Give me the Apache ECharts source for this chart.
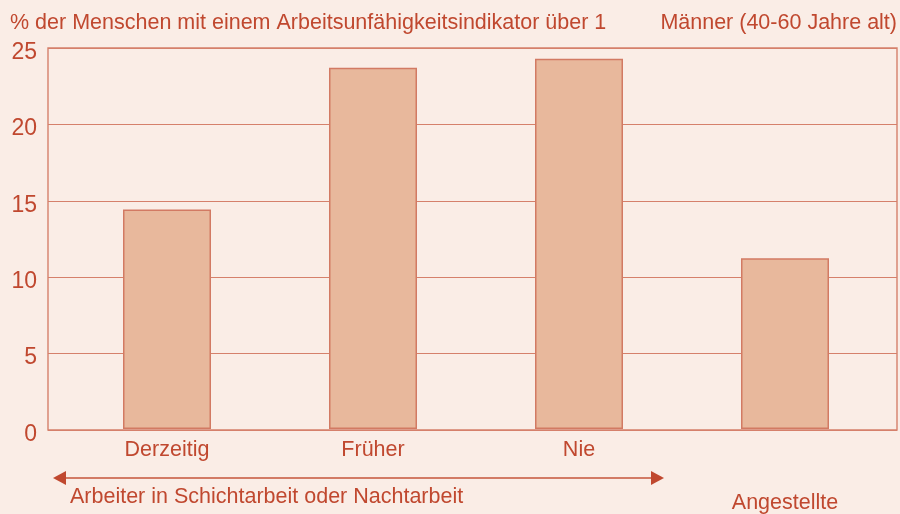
<!DOCTYPE html>
<html><head><meta charset="utf-8">
<script src="https://cdn.jsdelivr.net/npm/echarts@6/dist/echarts.min.js"></script>
<style>html,body{margin:0;padding:0;background:#FAEDE6;}#c{width:900px;height:514px;}</style>
</head><body><div id="c"></div>
<script>
const categories = ['Derzeitig', 'Früher', 'Nie', 'Angestellte'];
const values = [14.4, 23.7, 24.3, 11.2];
const yTicks = [0, 5, 10, 15, 20, 25];
const titleLeft = '% der Menschen mit einem Arbeitsunfähigkeitsindikator über 1';
const titleRight = 'Männer (40-60 Jahre alt)';
const groupLabel = 'Arbeiter in Schichtarbeit oder Nachtarbeit';

const TXT = '#C0482F';
const LINE = '#D5806B';
const FONT = '"Liberation Sans", Arial, sans-serif';
const FS = 21.5;

const chart = echarts.init(document.getElementById('c'));
chart.setOption({
  backgroundColor: '#FAEDE6',
  animation: false,
  textStyle: { fontFamily: FONT },
  grid: [
    { left: 48, right: 3, top: 48, bottom: 84, show: true, borderColor: LINE, borderWidth: 1.4, backgroundColor: 'transparent' },
    { left: 64, right: 12, top: 48, bottom: 84 }
  ],
  xAxis: [
    { gridIndex: 0, type: 'value', min: 0, max: 1, show: false },
    { gridIndex: 1, type: 'category', data: categories,
      axisLine: { show: false }, axisTick: { show: false },
      axisLabel: { color: TXT, fontSize: FS, fontFamily: FONT, margin: 10, interval: 0,
        formatter: function (v, i) { return i === 3 ? '{low|' + v + '}' : v; },
        rich: { low: { color: TXT, fontSize: FS, fontFamily: FONT, padding: [53, 0, 0, 0] } } } }
  ],
  yAxis: [
    { gridIndex: 0, type: 'value', min: yTicks[0], max: yTicks[yTicks.length - 1], interval: 5,
      axisLine: { show: false }, axisTick: { show: false },
      axisLabel: { color: TXT, fontSize: 23, fontFamily: FONT, margin: 11,
        formatter: '{a|{value}}',
        rich: { a: { color: TXT, fontSize: 23, fontFamily: FONT, padding: [9, 0, 0, 0] } } },
      splitLine: { lineStyle: { color: LINE, width: 1.2 } } },
    { gridIndex: 1, type: 'value', min: 0, max: 25, show: false }
  ],
  series: [{
    type: 'bar', xAxisIndex: 1, yAxisIndex: 1, data: values, barWidth: 88,
    itemStyle: { color: '#E8B89C', borderColor: '#D27A63', borderWidth: 1.5 }
  }],
  graphic: [
    { type: 'text', left: 10, top: 12, style: { text: titleLeft, fill: TXT, fontSize: FS, fontFamily: FONT } },
    { type: 'text', right: 3, top: 12, style: { text: titleRight, fill: TXT, fontSize: FS, fontFamily: FONT } },
    { type: 'line', shape: { x1: 62, y1: 478, x2: 654, y2: 478 }, style: { stroke: '#C5543A', lineWidth: 1.5 } },
    { type: 'polygon', shape: { points: [[53, 478], [66, 471], [66, 485]] }, style: { fill: '#C0482F' } },
    { type: 'polygon', shape: { points: [[664, 478], [651, 471], [651, 485]] }, style: { fill: '#C0482F' } },
    { type: 'text', left: 70, top: 486, style: { text: groupLabel, fill: TXT, fontSize: FS, fontFamily: FONT } }
  ]
});
</script></body></html>
